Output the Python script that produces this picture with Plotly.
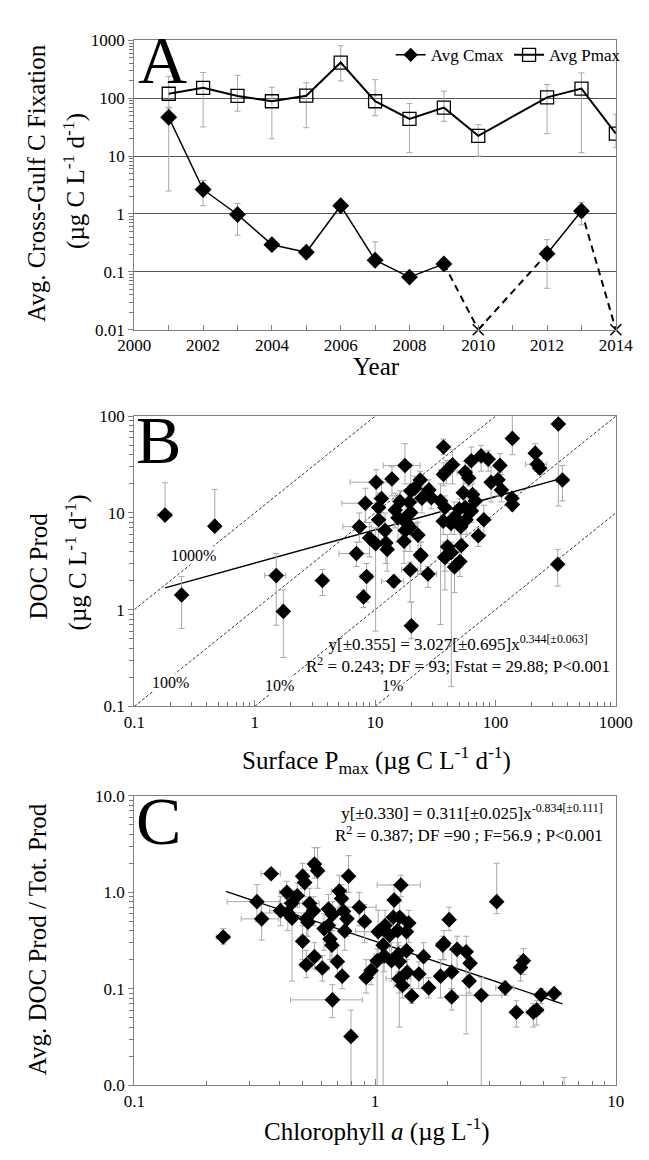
import plotly.graph_objects as go

FONT = "Liberation Serif"
W, H = 649, 1160

# ---------------- Panel A data ----------------
years = [2001, 2002, 2003, 2004, 2005, 2006, 2007, 2008, 2009, 2010, 2012, 2013, 2014]
pmax = [120, 152, 110, 89, 111, 415, 89, 44, 69, 22.5, 104, 147, 24.5]
pmax_hi = [240, 280, 250, 156, 185, 810, 210, 81, 133, 35, 173, 275, 53]
pmax_lo = [70, 32, 60, 20, 31, 200, 50, 11.5, 40, 10, 24.5, 11.5, 14]
cmax = [47, 2.65, 0.98, 0.295, 0.218, 1.39, 0.159, 0.081, 0.137, 0.01, 0.206, 1.13, 0.01]
cmax_hi = [68, 3.8, 1.52, 0.33, 0.24, 1.58, 0.33, 0.09, 0.17, 0.01, 0.36, 1.58, 0.01]
cmax_lo = [2.5, 1.39, 0.43, 0.27, 0.2, 1.25, 0.14, 0.075, 0.12, 0.01, 0.052, 0.65, 0.01]
cmax_nd = [False, False, False, False, False, False, False, False, False, True, False, False, True]

# ---------------- Panel B data ----------------
b_x = [333, 138, 360, 214, 222, 233, 137, 138, 112, 105, 109, 92, 87, 76, 63, 56, 60, 54, 64.5, 68,
       44, 39, 37, 37, 35, 38, 50, 56, 63, 57, 80, 72, 51.5, 45.6, 42.7, 46.6, 36.8, 52, 40, 43,
       38, 28, 29.3, 24.5, 23.7, 21.4, 19.8, 19.3, 19.8, 18, 18.4, 19.5, 17.8, 16.1, 17.7, 14.7, 15.5, 17.4, 22.7, 23.9,
       13.8, 10.2, 11.3, 10.7, 8.3, 10.7, 7.4, 9.0, 10.1, 12.1, 12.3, 12.6, 7.0,
       0.247, 1.51, 1.73, 3.65, 8.5, 8.0, 14.3, 19.6, 20.0, 27.5, 38, 45.7, 50.6, 24, 329, 0.18, 0.466]
b_y = [83, 59, 21.9, 41.5, 31.9, 29, 14.2, 12.2, 17.3, 22, 31, 20.8, 36, 38.9, 34.6, 26.3, 23, 16.2, 15.5, 13.3,
       31.5, 27, 25, 48, 13.3, 11.4, 11, 11.4, 10.5, 8.5, 8.5, 5.8, 7.2, 9.0, 7.8, 8.9, 8.2, 4.6, 4.47, 3.9,
       3.5, 17.3, 14.4, 14.2, 21.9, 18, 16.9, 12.9, 10.1, 9.0, 7.8, 7.1, 6.6, 13.1, 30.9, 10.7, 8.9, 5.1, 5.9, 3.7,
       22.4, 20.8, 14.1, 11.4, 12.6, 8.5, 7.2, 5.5, 4.8, 6.6, 4.9, 4.2, 3.8,
       1.42, 2.25, 0.96, 2.0, 2.2, 1.35, 1.97, 2.59, 0.68, 2.34, 3.46, 2.76, 3.14, 3.6, 2.95, 9.5, 7.3]
b_hi = [130, 150, 31, 52, 40, 35, 16, 14, 25, 33, 41, 30, 44, 50, 48, 34, 30, 24, 20, 17,
        45, 35, 33, 58, 20, 15, 14, 14, 14, 11, 12, 7, 9, 13, 10, 11, 11, 6, 6, 5,
        5, 22, 18, 19, 27, 24, 32, 20, 14, 13, 12, 10, 10, 17, 52, 16, 14, 8, 8, 5,
        30, 28, 20, 16, 18, 12, 10, 8, 7, 10, 7, 6, 5,
        2.2, 3.8, 1.6, 2.6, 3.0, 1.6, 2.2, 3.1, 1.2, 2.8, 5, 3.4, 4, 5, 4.2, 20.5, 17.5]
b_lo = [11.8, 40, 13.3, 34, 27, 25, 12, 10.5, 13, 15, 26, 13, 27, 27, 21, 20, 19, 9, 11, 10,
        20, 20, 19, 40, 0.7, 8, 8, 9, 8, 6, 6, 4.5, 5, 6, 6, 7, 6, 3.2, 3, 0.16,
        2.5, 14, 11, 10, 16, 13, 10, 8, 6, 5, 5, 4, 4, 10, 20, 7, 5, 3, 4, 2.5,
        15, 14, 10, 8, 8, 5, 5, 3.5, 0.6, 4, 3, 2.5, 2.8,
        0.64, 0.69, 0.32, 1.4, 1.2, 1.05, 1.7, 1.2, 0.5, 1.7, 1.6, 1.5, 2.2, 2.5, 1.75, 9, 7.2]
b_xe = [0, 0, 40, 0, 45, 0, 0, 0, 0, 0, 10, 0, 0, 0, 0, 8, 0, 0, 0, 0,
        0, 5, 0, 0, 0, 0, 0, 0, 0, 0, 0, 0, 0, 0, 0, 0, 0, 0, 0, 0,
        0, 0, 0, 0, 0, 0, 0, 0, 0, 0, 4, 0, 0, 0, 6, 0, 0, 0, 0, 0,
        0, 4, 0, 0, 3, 0, 2, 0, 0, 0, 0, 0, 2,
        0, 0.3, 0.15, 0, 1.0, 0.8, 3, 3, 0, 5, 0, 0, 0, 0, 0, 0.025, 0]
b_fit_x = [0.18, 360]
b_fit_y = [1.68, 22.9]
pct_labels = ["1000%", "100%", "10%", "1%"]
pct_x0 = [0.1, 0.1, 1, 10]
pct_x1 = [10, 100, 1000, 1000]
pct_ratio = [10, 1, 0.1, 0.01]

# ---------------- Panel C data ----------------
c_x = [0.234, 0.37, 0.323, 0.338, 0.43, 0.45, 0.475, 0.405, 0.434, 0.452, 0.50, 0.51, 0.56, 0.577, 0.535,
       0.555, 0.518, 0.526, 0.50, 0.614, 0.64, 0.665, 0.64, 0.65, 0.71, 0.726, 0.74, 0.764, 0.748, 0.776,
       0.86, 0.904, 1.03, 1.10, 1.15, 1.20, 1.19, 1.265, 1.24, 1.28, 1.35, 1.38, 2.03, 3.2, 1.93,
       0.518, 0.56, 0.604, 0.662, 0.697, 0.73, 0.665, 0.794, 0.918, 0.962, 1.02, 1.08, 1.09, 1.17, 1.25,
       1.26, 1.26, 1.30, 1.35, 1.36, 1.42, 1.52, 1.59, 1.67, 1.87, 1.91, 2.08, 2.08, 2.19, 2.39,
       2.48, 2.46, 2.76, 3.47, 3.86, 4.02, 4.13, 4.54, 4.69, 4.89, 5.54, 6.1]
c_y = [0.344, 1.56, 0.80, 0.53, 1.0, 0.77, 0.92, 0.645, 0.61, 0.54, 1.47, 1.26, 1.96, 1.67, 0.766,
       0.645, 0.53, 0.49, 0.31, 0.42, 0.67, 0.59, 0.453, 0.327, 1.03, 0.86, 0.635, 0.53, 0.397, 1.47,
       0.70, 0.498, 0.39, 0.453, 0.358, 0.83, 0.55, 0.55, 0.40, 1.19, 0.39, 0.48, 0.52, 0.80, 0.295,
       0.177, 0.215, 0.164, 0.283, 0.191, 0.135, 0.0766, 0.032, 0.131, 0.154, 0.195, 0.283, 0.219, 0.195, 0.228,
       0.191, 0.127, 0.108, 0.248, 0.148, 0.084, 0.142, 0.215, 0.102, 0.135, 0.283, 0.082, 0.149, 0.256, 0.242,
       0.184, 0.12, 0.0855, 0.102, 0.057, 0.166, 0.195, 0.057, 0.06, 0.086, 0.089, 0.004]
c_hi = [0.42, 1.6, 1.2, 0.8, 1.3, 1.0, 1.25, 0.9, 0.85, 0.75, 2.0, 1.7, 2.9, 2.9, 1.1,
        0.9, 0.75, 0.6, 0.45, 0.6, 0.95, 0.8, 0.6, 0.45, 1.5, 1.2, 0.9, 0.7, 0.55, 2.4,
        1.0, 0.75, 0.65, 0.65, 0.5, 1.2, 0.75, 0.8, 0.55, 1.5, 0.55, 0.65, 0.7, 2.0, 0.4,
        0.25, 0.3, 0.22, 0.4, 0.28, 0.19, 0.11, 0.06, 0.2, 0.2, 0.26, 0.35, 0.3, 0.3, 0.3,
        0.28, 0.18, 0.15, 0.35, 0.2, 0.1, 0.19, 0.3, 0.13, 0.2, 0.35, 0.1, 0.25, 0.35, 0.35,
        0.25, 0.2, 0.13, 0.12, 0.075, 0.22, 0.26, 0.07, 0.075, 0.1, 0.1, 0.012]
c_lo = [0.29, 1.5, 0.5, 0.32, 0.7, 0.5, 0.7, 0.45, 0.4, 0.12, 1.1, 0.9, 1.4, 1.1, 0.5,
        0.45, 0.35, 0.35, 0.2, 0.25, 0.45, 0.4, 0.3, 0.2, 0.7, 0.6, 0.4, 0.35, 0.25, 1.0,
        0.45, 0.3, 0.2, 0.3, 0.2, 0.5, 0.35, 0.4, 0.25, 0.9, 0.25, 0.3, 0.4, 0.6, 0.2,
        0.13, 0.16, 0.12, 0.2, 0.13, 0.1, 0.05, 0.005, 0.09, 0.11, 0.005, 0.005, 0.15, 0.12, 0.15,
        0.04, 0.09, 0.08, 0.17, 0.1, 0.07, 0.1, 0.1, 0.08, 0.08, 0.2, 0.06, 0.1, 0.15, 0.034,
        0.12, 0.09, 0.005, 0.085, 0.04, 0.12, 0.14, 0.04, 0.042, 0.07, 0.08, 0.003]
c_xe = [0.015, 0.034, 0.08, 0.06, 0.03, 0.05, 0, 0.04, 0.1, 0, 0, 0, 0, 0, 0.05,
        0, 0, 0, 0, 0, 0.1, 0, 0, 0, 0.05, 0, 0, 0, 0, 0,
        0.15, 0, 0.2, 0, 0, 0, 0, 0, 0, 0.26, 0, 0, 0, 0, 0,
        0.03, 0, 0.04, 0, 0, 0.03, 0.22, 0, 0.03, 0, 0, 0, 0.1, 0.1, 0,
        0, 0.15, 0.1, 0, 0, 0, 0, 0, 0, 0, 0.12, 0, 0, 0, 0,
        0, 0, 0.6, 0.3, 0, 0, 0.15, 0.3, 0.3, 0, 0.4, 0]
c_fit_x = [0.24, 6.0]
c_fit_y = [1.02, 0.0697]

# ---------------- figure ----------------
fig = go.Figure()
ERR = dict(color="#a8a8a8", thickness=1, width=3)

# Panel A: Pmax
fig.add_trace(go.Scatter(
    x=years, y=pmax, mode="lines+markers", name="Avg Pmax",
    line=dict(color="black", width=2),
    marker=dict(symbol="square-open", size=13, color="black", line=dict(width=1.3)),
    error_y=dict(type="data", symmetric=False,
                 array=[h - v for h, v in zip(pmax_hi, pmax)],
                 arrayminus=[v - l for v, l in zip(pmax, pmax_lo)], **ERR),
    xaxis="x", yaxis="y", legendrank=2))

# Panel A: Cmax solid / dashed segments
solid_x, solid_y, dash_x, dash_y = [], [], [], []
for i in range(len(years) - 1):
    seg = ([years[i], years[i + 1]], [cmax[i], cmax[i + 1]])
    if cmax_nd[i] or cmax_nd[i + 1]:
        dash_x += seg[0] + [None]
        dash_y += seg[1] + [None]
    else:
        solid_x += seg[0] + [None]
        solid_y += seg[1] + [None]
fig.add_trace(go.Scatter(x=dash_x, y=dash_y, mode="lines", showlegend=False,
                         line=dict(color="black", width=2, dash="7px,5px"), xaxis="x", yaxis="y"))
fig.add_trace(go.Scatter(x=solid_x, y=solid_y, mode="lines", showlegend=False,
                         line=dict(color="black", width=1.5), xaxis="x", yaxis="y"))
det = [i for i in range(len(years)) if not cmax_nd[i]]
nd = [i for i in range(len(years)) if cmax_nd[i]]
fig.add_trace(go.Scatter(
    x=[years[i] for i in det], y=[cmax[i] for i in det], mode="markers", showlegend=False,
    marker=dict(symbol="diamond", size=13, color="black"),
    error_y=dict(type="data", symmetric=False,
                 array=[cmax_hi[i] - cmax[i] for i in det],
                 arrayminus=[cmax[i] - cmax_lo[i] for i in det], **ERR),
    xaxis="x", yaxis="y"))
fig.add_trace(go.Scatter(
    x=[years[i] for i in nd], y=[cmax[i] for i in nd], mode="markers", showlegend=False,
    marker=dict(symbol="x-thin-open", size=11, color="black", line=dict(width=1.5, color="black")),
    cliponaxis=False, xaxis="x", yaxis="y"))
# legend proxy for Cmax
fig.add_trace(go.Scatter(x=[None], y=[None], mode="lines+markers", name="Avg Cmax",
                         line=dict(color="black", width=1.5),
                         marker=dict(symbol="diamond", size=11, color="black"),
                         xaxis="x", yaxis="y", legendrank=1))

# Panel B: reference lines
for lab, x0, x1, r in zip(pct_labels, pct_x0, pct_x1, pct_ratio):
    fig.add_trace(go.Scatter(x=[x0, x1], y=[x0 * r, x1 * r], mode="lines", showlegend=False,
                             line=dict(color="#333", width=1, dash="3px,2px"), xaxis="x2", yaxis="y2"))
fig.add_trace(go.Scatter(x=b_fit_x, y=b_fit_y, mode="lines", showlegend=False,
                         line=dict(color="black", width=1.5), xaxis="x2", yaxis="y2"))
fig.add_trace(go.Scatter(
    x=b_x, y=b_y, mode="markers", showlegend=False,
    marker=dict(symbol="diamond", size=12, color="black"),
    error_y=dict(type="data", symmetric=False,
                 array=[h - v for h, v in zip(b_hi, b_y)],
                 arrayminus=[v - l for v, l in zip(b_y, b_lo)], **ERR),
    error_x=dict(type="data", array=b_xe, **ERR),
    xaxis="x2", yaxis="y2"))

# Panel C
fig.add_trace(go.Scatter(x=c_fit_x, y=c_fit_y, mode="lines", showlegend=False,
                         line=dict(color="black", width=1.3), xaxis="x3", yaxis="y3"))
fig.add_trace(go.Scatter(
    x=c_x, y=c_y, mode="markers", showlegend=False,
    marker=dict(symbol="diamond", size=12, color="black"),
    error_y=dict(type="data", symmetric=False,
                 array=[h - v for h, v in zip(c_hi, c_y)],
                 arrayminus=[v - l for v, l in zip(c_y, c_lo)], **ERR),
    error_x=dict(type="data", array=c_xe, **ERR),
    xaxis="x3", yaxis="y3"))

# ---------------- axes ----------------
xdom = [124 / W, 633 / W]
def ydom(top, bot):
    return [1 - bot / H, 1 - top / H]

TICKFONT = dict(family=FONT, size=17, color="black")
base = dict(showline=True, linecolor="#808080", linewidth=1.2, mirror=True, showgrid=False,
            zeroline=False, tickfont=TICKFONT, tickcolor="#808080")

def minor(side):
    return dict(dtick="D1", ticks=side, ticklen=4, tickwidth=1, tickcolor="#777", showgrid=False)

fig.update_layout(
    xaxis=dict(base, domain=xdom, anchor="y", range=[2000, 2014],
               tickvals=list(range(2000, 2015, 2)),
               ticks="inside", ticklen=5,
               minor=dict(dtick=1, ticks="inside", ticklen=5, tickcolor="#808080", showgrid=False)),
    yaxis=dict(base, domain=ydom(32, 326), anchor="x", type="log", range=[-2, 3],
               tickvals=[0.01, 0.1, 1, 10, 100, 1000],
               ticktext=["0.01", "0.1", "1", "10", "100", "1000"],
               ticks="outside", ticklen=5, showgrid=True, gridcolor="#555", gridwidth=1,
               minor=minor("outside")),
    xaxis2=dict(base, domain=xdom, anchor="y2", type="log", range=[-1, 3],
                tickvals=[0.1, 1, 10, 100, 1000], ticktext=["0.1", "1", "10", "100", "1000"],
                ticks="inside", ticklen=6, minor=minor("inside")),
    yaxis2=dict(base, domain=ydom(414, 709), anchor="x2", type="log", range=[-1, 2],
                tickvals=[0.1, 1, 10, 100], ticktext=["0.1", "1", "10", "100"],
                ticks="outside", ticklen=5, minor=minor("outside")),
    xaxis3=dict(base, domain=xdom, anchor="y3", type="log", range=[-1, 1],
                tickvals=[0.1, 1, 10], ticktext=["0.1", "1", "10"],
                ticks="inside", ticklen=6, minor=minor("inside")),
    yaxis3=dict(base, domain=ydom(800, 1094), anchor="x3", type="log", range=[-2, 1],
                tickvals=[0.01, 0.1, 1, 10], ticktext=["0.0", "0.1", "1.0", "10.0"],
                ticks="outside", ticklen=5, minor=minor("outside")),
)

# ---------------- annotations ----------------
ann = []
def px(x):
    return x / W
def py(y):
    return 1 - y / H

def add(text, x, y, size, angle=0, xanchor="center", align="center", bg=None):
    d = dict(text=text, x=px(x), y=py(y), xref="paper", yref="paper", showarrow=False,
             font=dict(family=FONT, size=size, color="black"), textangle=angle,
             xanchor=xanchor, yanchor="middle", align=align)
    if bg:
        d["bgcolor"] = bg
        d["borderpad"] = 0
    ann.append(d)

UNIT = "(µg C L<sup>-1</sup> d<sup>-1</sup>)"
add("A", 154, 52, 68)
add("B", 150, 438, 68)
add("C", 150, 826, 68)
add("Avg. Cross-Gulf C Fixation", 20, 177, 25, angle=-90)
add(UNIT, 60, 175, 25, angle=-90)
add("Year", 380, 363, 25)
add("DOC Prod", 23, 566, 25, angle=-90)
add(UNIT, 63, 563, 25, angle=-90)
add("Surface P<sub>max</sub> (µg C L<sup>-1</sup> d<sup>-1</sup>)", 380, 764, 25)
add("Avg. DOC Prod / Tot. Prod", 22, 946, 25, angle=-90)
add("Chlorophyll <i>a</i> (µg L<sup>-1</sup>)", 380, 1139, 25)
add("y[±0.355] = 3.027[±0.695]x<sup>0.344[±0.063]</sup><br>R<sup>2</sup> = 0.243; DF = 93; Fstat = 29.88; P<0.001",
    466, 656, 17)
add("y[±0.330] = 0.311[±0.025]x<sup>-0.834[±0.111]</sup><br>R<sup>2</sup> = 0.387; DF =90 ; F=56.9 ; P<0.001",
    621, 828, 17, xanchor="right", align="right")
for lab, (lx, ly) in zip(pct_labels, [(187, 556), (162, 685), (277, 688), (397, 688)]):
    add(lab, lx, ly, 16, bg="white")

fig.update_layout(
    width=W, height=H, margin=dict(l=0, r=0, t=0, b=0),
    paper_bgcolor="white", plot_bgcolor="white",
    annotations=ann,
    showlegend=True,
    legend=dict(orientation="h", x=px(395), y=py(47), xanchor="left", yanchor="middle",
                font=dict(family=FONT, size=17, color="black"), bgcolor="rgba(0,0,0,0)",
                itemwidth=30, tracegroupgap=0, traceorder="normal"),
    font=dict(family=FONT),
)

fig.write_html("out.html")
